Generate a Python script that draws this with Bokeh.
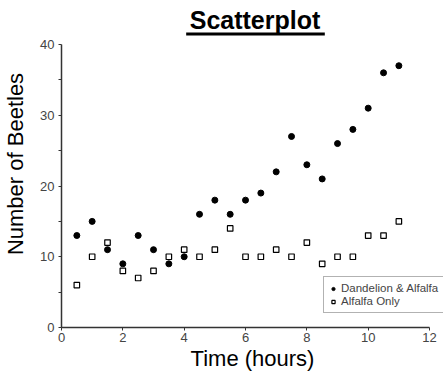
from bokeh.plotting import figure
from bokeh.models import Range1d, Legend, LegendItem, Label, BoxAnnotation, FixedTicker
from bokeh.embed import file_html
from bokeh.resources import INLINE

time_h = [0.5, 1, 1.5, 2, 2.5, 3, 3.5, 4, 4.5, 5, 5.5, 6, 6.5, 7, 7.5, 8, 8.5, 9, 9.5, 10, 10.5, 11]
dandelion_alfalfa = [13, 15, 11, 9, 13, 11, 9, 10, 16, 18, 16, 18, 19, 22, 27, 23, 21, 26, 28, 31, 36, 37]
alfalfa_only = [6, 10, 12, 8, 7, 8, 10, 11, 10, 11, 14, 10, 10, 11, 10, 12, 9, 10, 10, 13, 13, 15]
x_ticks = [0, 2, 4, 6, 8, 10, 12]
y_ticks = [0, 10, 20, 30, 40]
y_minor = [5, 15, 25, 35]

FONT = "Liberation Sans"
W, H = 443, 375
# frame spans pixel x 60..443 and y 0..327; axis 0..12 maps to 60..429, 0..40 maps to 327..44
FL, FR, FT, FB = 60, 443, 0, 327
X0PX, X12PX, Y40PX = 60, 429, 44
x_per_px = 12 / (X12PX - X0PX)
y_per_px = 40 / (FB - Y40PX)
x_end = (FR - FL) * x_per_px
y_end = (FB - FT) * y_per_px


def dx(px):
    return (px - FL) * x_per_px


def dy(py):
    return (FB - py) * y_per_px


p = figure(width=W, height=H, output_backend="svg", toolbar_location=None,
           x_range=Range1d(0, x_end), y_range=Range1d(0, y_end),
           min_border_left=FL, min_border_right=0, min_border_top=0, min_border_bottom=H - FB)
p.outline_line_color = None
p.grid.grid_line_color = None
p.background_fill_color = "white"
p.border_fill_color = "white"

r1 = p.scatter(time_h, dandelion_alfalfa, marker="circle", size=6, fill_color="black", line_color="black")
r2 = p.scatter(time_h, alfalfa_only, marker="square", size=5.5, fill_color="white", line_color="black", line_width=1.2)

p.xaxis.ticker = FixedTicker(ticks=x_ticks)
p.yaxis.ticker = FixedTicker(ticks=y_ticks, minor_ticks=y_minor)
p.xaxis.bounds = (0, 12)
p.yaxis.bounds = (0, 40)
for ax in (p.xaxis[0], p.yaxis[0]):
    ax.axis_line_color = "#333333"
    ax.axis_line_width = 1.5
    ax.major_tick_line_color = "#333333"
    ax.minor_tick_line_color = "#333333"
    ax.major_tick_out = 3
    ax.major_tick_in = 0
    ax.minor_tick_out = 3
    ax.minor_tick_in = 0
    ax.major_label_text_font = FONT
    ax.major_label_text_font_size = "13px"
    ax.major_label_text_color = "#444444"
    ax.axis_label_text_font = FONT
    ax.axis_label_text_font_size = "22px"
    ax.axis_label_text_font_style = "normal"
    ax.axis_label_text_color = "black"
p.xaxis.minor_tick_line_color = None
p.xaxis.axis_label = "Time (hours)"
p.yaxis.axis_label = "Number of Beetles"
p.xaxis.major_label_standoff = 2
p.yaxis.major_label_standoff = 4
p.xaxis.axis_label_standoff = 1
p.yaxis.axis_label_standoff = 9

legend = Legend(items=[LegendItem(label="Dandelion & Alfalfa", renderers=[r1]),
                       LegendItem(label="Alfalfa Only", renderers=[r2])],
                location=(322 - FL, FB - 313))
legend.label_text_font = FONT
legend.label_text_font_size = "11.5px"
legend.label_height = 11
legend.glyph_height = 11
legend.glyph_width = 8
legend.spacing = 1
legend.padding = 5
legend.margin = 0
legend.label_standoff = 4
legend.border_line_color = "#666666"
legend.border_line_width = 1
legend.background_fill_alpha = 1
p.add_layout(legend, "center")

title = Label(x=dx(254), y=dy(19), text="Scatterplot",
              text_font=FONT, text_font_size="25px", text_font_style="bold",
              text_align="center", text_baseline="alphabetic", text_color="black")
p.add_layout(title)
underline = BoxAnnotation(left=dx(185), right=dx(324), top=dy(32), bottom=dy(35),
                          fill_color="black", fill_alpha=1, line_color=None)
p.add_layout(underline)

open("out.html", "w").write(file_html(p, INLINE))
